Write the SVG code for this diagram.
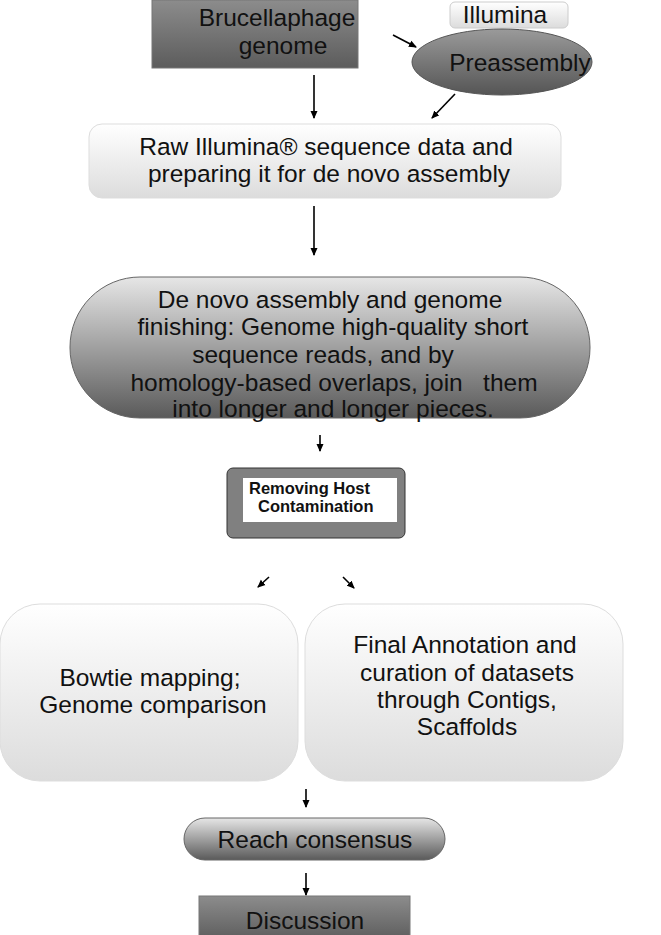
<svg xmlns="http://www.w3.org/2000/svg" width="661" height="935" viewBox="0 0 661 935">
<defs>
<linearGradient id="gDark" x1="0" y1="0" x2="0" y2="1"><stop offset="0" stop-color="#8c8c8c"/><stop offset="1" stop-color="#5c5c5c"/></linearGradient>
<linearGradient id="gLight" x1="0" y1="0" x2="0" y2="1"><stop offset="0" stop-color="#ffffff"/><stop offset="1" stop-color="#dcdcdc"/></linearGradient>
<linearGradient id="gPill" x1="0" y1="0" x2="0" y2="1"><stop offset="0" stop-color="#e6e6e6"/><stop offset="1" stop-color="#5a5a5a"/></linearGradient>
<linearGradient id="gEll" x1="0" y1="0" x2="0" y2="1"><stop offset="0" stop-color="#9a9a9a"/><stop offset="1" stop-color="#555555"/></linearGradient>
<marker id="ah" markerWidth="8" markerHeight="8" refX="7" refY="4" orient="auto" markerUnits="userSpaceOnUse"><path d="M0,0.5 L8,4 L0,7.5 z" fill="#000"/></marker>
</defs>
<style>
text{font-family:"Liberation Sans",Arial,sans-serif;fill:#111;text-anchor:middle;dominant-baseline:middle}
.t22{font-size:24.5px}
.b14{font-size:16.5px;font-weight:bold;text-anchor:start}
.ln{stroke:#000;stroke-width:1.6;fill:none;marker-end:url(#ah)}
</style>
<rect width="661" height="935" fill="#fff"/>
<g id="brucellaphage">
<rect x="152" y="0" width="206" height="68" fill="url(#gDark)" stroke="#777" stroke-width="1"/>
<text class="t22" x="277" y="20">Brucellaphage</text>
<text class="t22" x="283" y="48">genome</text>
</g>
<g id="illumina">
<rect x="450" y="2" width="118" height="26" rx="5" fill="url(#gLight)" stroke="#ccc"/>
<text class="t22" x="505" y="17">Illumina</text>
</g>
<g id="preassembly">
<ellipse cx="502" cy="62" rx="90" ry="33" fill="url(#gEll)" stroke="#555"/>
<text class="t22" x="520" y="65">Preassembly</text>
</g>
<g id="raw">
<rect x="89" y="124" width="472" height="74" rx="13" fill="url(#gLight)" stroke="#ddd"/>
<text class="t22" x="326" y="149">Raw Illumina® sequence data and</text>
<text class="t22" x="329" y="176">preparing it for de novo assembly</text>
</g>
<g id="denovo">
<rect x="70" y="277" width="520" height="141" rx="70" fill="url(#gPill)" stroke="#666"/>
<text class="t22" x="330" y="302">De novo assembly and genome</text>
<text class="t22" x="333" y="329">finishing: Genome high-quality short</text>
<text class="t22" x="323" y="357">sequence reads, and by</text>
<text class="t22" x="334" y="385" xml:space="preserve">homology-based overlaps, join   them</text>
<text class="t22" x="333" y="411">into longer and longer pieces.</text>
</g>
<g id="removing">
<rect x="227" y="468" width="178" height="70" rx="6" fill="#808080" stroke="#333"/>
<rect x="243" y="478" width="154" height="44" fill="#fff"/>
<text class="b14" x="249" y="490">Removing Host</text>
<text class="b14" x="258" y="508">Contamination</text>
</g>
<g id="bowtie">
<rect x="0" y="604" width="298" height="177" rx="40" fill="url(#gLight)" stroke="#ddd"/>
<text class="t22" x="150" y="680">Bowtie mapping;</text>
<text class="t22" x="153" y="707">Genome comparison</text>
</g>
<g id="final">
<rect x="305" y="604" width="318" height="177" rx="40" fill="url(#gLight)" stroke="#ddd"/>
<text class="t22" x="465" y="647">Final Annotation and</text>
<text class="t22" x="467" y="675">curation of datasets</text>
<text class="t22" x="467" y="702">through Contigs,</text>
<text class="t22" x="467" y="729">Scaffolds</text>
</g>
<g id="consensus">
<rect x="184" y="818" width="261" height="42" rx="21" fill="url(#gPill)" stroke="#666"/>
<text class="t22" x="315" y="842">Reach consensus</text>
</g>
<g id="discussion">
<rect x="199" y="896" width="211" height="45" fill="url(#gDark)" stroke="#777"/>
<text class="t22" x="305" y="923">Discussion</text>
</g>
<g id="connectors">
<line class="ln" x1="393" y1="35" x2="416" y2="47"/>
<line class="ln" x1="314" y1="75" x2="314" y2="118"/>
<line class="ln" x1="455" y1="94" x2="432" y2="118"/>
<line class="ln" x1="314" y1="206" x2="314" y2="255"/>
<line class="ln" x1="320" y1="435" x2="320" y2="451"/>
<line class="ln" x1="269" y1="577" x2="258" y2="587"/>
<line class="ln" x1="343" y1="577" x2="354" y2="588"/>
<line class="ln" x1="306" y1="789" x2="306" y2="807"/>
<line class="ln" x1="306" y1="873" x2="306" y2="895"/>
</g>
</svg>
